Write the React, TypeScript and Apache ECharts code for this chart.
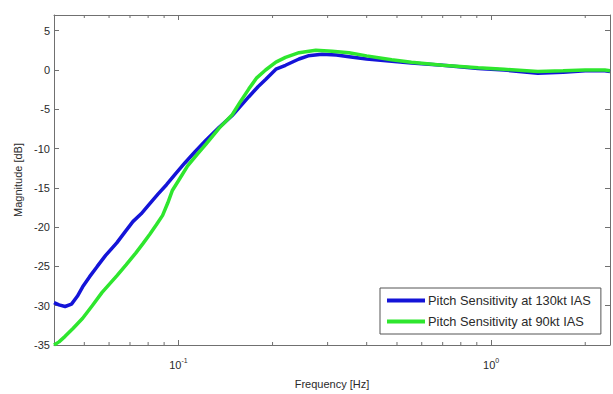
import React, { useEffect, useRef } from "react";
import * as echarts from "echarts";

const freqBlue = [0.04, 0.0415, 0.0434, 0.0455, 0.0475, 0.0494, 0.052, 0.055, 0.0585, 0.0635, 0.0675, 0.0715, 0.076, 0.081, 0.086, 0.0916, 0.098, 0.105, 0.113, 0.1227, 0.135, 0.1486, 0.158, 0.168, 0.18, 0.19, 0.205, 0.22, 0.243, 0.26, 0.288, 0.32, 0.351, 0.4, 0.481, 0.556, 0.7, 0.909, 1.1, 1.41, 1.7, 2.0, 2.31, 2.4];
const magBlue = [-29.6, -29.9, -30.1, -29.8, -28.8, -27.6, -26.3, -25.0, -23.6, -22.0, -20.6, -19.3, -18.3, -17.0, -15.8, -14.6, -13.2, -11.8, -10.4, -8.9, -7.3, -5.8, -4.6, -3.4, -2.1, -1.2, 0.1, 0.6, 1.4, 1.8, 2.0, 1.9, 1.7, 1.4, 1.1, 0.9, 0.6, 0.2, 0.0, -0.4, -0.3, -0.1, -0.1, -0.2];

const freqGreen = [0.04, 0.0415, 0.0434, 0.046, 0.0494, 0.053, 0.057, 0.0635, 0.068, 0.073, 0.077, 0.081, 0.085, 0.089, 0.0925, 0.0957, 0.1, 0.107, 0.115, 0.1227, 0.135, 0.1486, 0.158, 0.168, 0.178, 0.19, 0.205, 0.22, 0.243, 0.275, 0.31, 0.351, 0.4, 0.481, 0.556, 0.7, 0.909, 1.1, 1.41, 1.7, 2.0, 2.31, 2.4];
const magGreen = [-35.0, -34.6, -33.9, -32.9, -31.6, -30.0, -28.3, -26.2, -24.8, -23.3, -22.1, -20.9, -19.7, -18.5, -16.9, -15.3, -14.1, -12.2, -10.7, -9.4, -7.4, -5.7, -4.0, -2.4, -1.0, 0.0, 1.0, 1.6, 2.2, 2.5, 2.4, 2.2, 1.8, 1.3, 1.0, 0.6, 0.3, 0.1, -0.2, -0.1, 0.0, 0.0, -0.1];

const minorTickFreqs = [0.05, 0.06, 0.07, 0.08, 0.09, 0.2, 0.3, 0.4, 0.5, 0.6, 0.7, 0.8, 0.9, 2];

const seriesNames = ["Pitch Sensitivity at 130kt IAS", "Pitch Sensitivity at 90kt IAS"];

const FONT = "Liberation Sans";
const AXIS_COLOR = "#707070";
const TEXT_COLOR = "#2a2a2a";

export default function App() {
  const ref = useRef<HTMLDivElement>(null);
  useEffect(() => {
    if (!ref.current) return;
    const chart = echarts.init(ref.current, null, { renderer: "svg" });
    const blueData = freqBlue.map((f, i) => [f, magBlue[i]]);
    const greenData = freqGreen.map((f, i) => [f, magGreen[i]]);
    const xLabel = (v: number) => {
      const l = Math.log10(v);
      const e = Math.round(l);
      if (Math.abs(l - e) > 1e-6) return "";
      return `{b|10}{s|${e}}`;
    };
    const option: any = {
      animation: false,
      backgroundColor: "#fff",
      textStyle: { fontFamily: FONT },
      grid: { left: 54, top: 15, right: 2, bottom: 47, containLabel: false },
      legend: {
        data: seriesNames,
        orient: "vertical",
        left: 380,
        top: 288,
        icon: "rect",
        itemWidth: 38,
        itemHeight: 4,
        itemGap: 8,
        padding: [6, 10, 6, 7],
        borderColor: "#555",
        borderWidth: 1,
        backgroundColor: "#fff",
        textStyle: { fontFamily: FONT, fontSize: 12.8, color: TEXT_COLOR, padding: [0, 0, 0, -2] },
      },
      xAxis: [
        {
          type: "log",
          logBase: 10,
          min: 0.04,
          max: 2.4,
          name: "Frequency [Hz]",
          nameLocation: "middle",
          nameGap: 33,
          nameTextStyle: { fontFamily: FONT, fontSize: 11, color: TEXT_COLOR },
          axisLine: { show: true, onZero: false, lineStyle: { color: AXIS_COLOR, width: 1 } },
          axisTick: { show: true, inside: true, length: 5, lineStyle: { color: AXIS_COLOR } },
          axisLabel: {
            formatter: xLabel,
            margin: 12,
            color: TEXT_COLOR,
            rich: {
              b: { fontFamily: FONT, fontSize: 11, color: TEXT_COLOR, verticalAlign: "bottom" },
              s: { fontFamily: FONT, fontSize: 7, color: TEXT_COLOR, verticalAlign: "top", padding: [0, 0, 6, 0] },
            },
          },
          splitLine: { show: false },
        },
        {
          type: "log",
          logBase: 10,
          min: 0.04,
          max: 2.4,
          position: "top",
          axisLine: { show: true, onZero: false, lineStyle: { color: AXIS_COLOR, width: 1 } },
          axisTick: { show: true, inside: true, length: 5, lineStyle: { color: AXIS_COLOR } },
          axisLabel: { show: false },
          splitLine: { show: false },
        },
      ],
      yAxis: [
        {
          type: "value",
          min: -35,
          max: 7,
          interval: 5,
          name: "Magnitude [dB]",
          nameLocation: "middle",
          nameGap: 30,
          nameTextStyle: { fontFamily: FONT, fontSize: 11, color: TEXT_COLOR },
          axisLine: { show: true, onZero: false, lineStyle: { color: AXIS_COLOR, width: 1 } },
          axisTick: { show: true, inside: true, length: 5, lineStyle: { color: AXIS_COLOR } },
          axisLabel: { showMaxLabel: false, margin: 4, fontFamily: FONT, fontSize: 11, color: TEXT_COLOR },
          splitLine: { show: false },
        },
        {
          type: "value",
          min: -35,
          max: 7,
          interval: 5,
          position: "right",
          axisLine: { show: true, onZero: false, lineStyle: { color: AXIS_COLOR, width: 1 } },
          axisTick: { show: true, inside: true, length: 5, lineStyle: { color: AXIS_COLOR } },
          axisLabel: { show: false },
          splitLine: { show: false },
        },
      ],
      series: [
        {
          name: seriesNames[0],
          type: "line",
          data: blueData,
          showSymbol: false,
          lineStyle: { color: "#1414d8", width: 3.5 },
          itemStyle: { color: "#1414d8" },
          z: 3,
        },
        {
          name: seriesNames[1],
          type: "line",
          data: greenData,
          showSymbol: false,
          lineStyle: { color: "#2ee62e", width: 3.5 },
          itemStyle: { color: "#2ee62e" },
          z: 4,
        },
        {
          type: "custom",
          data: minorTickFreqs.map((f) => [f, -35]),
          silent: true,
          z: 5,
          renderItem: (params: any, api: any) => {
            const x = api.coord([api.value(0), api.value(1)])[0];
            const cs = params.coordSys;
            const style = { stroke: AXIS_COLOR, lineWidth: 1 };
            return {
              type: "group",
              children: [
                { type: "line", shape: { x1: x, y1: cs.y + cs.height, x2: x, y2: cs.y + cs.height - 3 }, style },
                { type: "line", shape: { x1: x, y1: cs.y, x2: x, y2: cs.y + 3 }, style },
              ],
            };
          },
        },
      ],
    };
    chart.setOption(option);
    return () => chart.dispose();
  }, []);
  return <div ref={ref} style={{ position: "fixed", left: 0, top: 0, width: 613, height: 394, background: "#fff" }} />;
}
